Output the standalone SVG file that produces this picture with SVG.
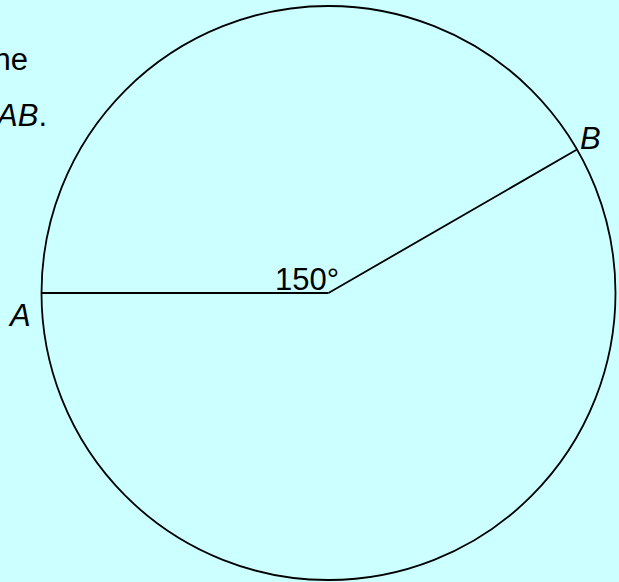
<svg xmlns="http://www.w3.org/2000/svg" width="619" height="582" viewBox="0 0 619 582">
<style>
.ln{fill:none;stroke:#000;stroke-width:1.8}
.t{font-family:"Liberation Sans",Arial,sans-serif;font-size:31px;fill:#000}
.i{font-style:italic}
</style>
<rect width="619" height="582" fill="#CCFFFF"/>
<text class="t" x="28" y="70" text-anchor="end">ne</text>
<text class="t" x="47" y="126" text-anchor="end"><tspan class="i">AB</tspan>.</text>
<g id="circle"><circle class="ln" cx="328.5" cy="293" r="287"/></g>
<g id="connectors">
<line class="ln" x1="41.5" y1="293" x2="328.5" y2="293"/>
<line class="ln" x1="328.5" y1="293" x2="577" y2="149.5"/>
</g>
<g id="labels">
<text class="t i" x="10" y="326">A</text>
<text class="t i" x="580" y="149">B</text>
<text class="t" x="275" y="290">150°</text>
</g>
</svg>
